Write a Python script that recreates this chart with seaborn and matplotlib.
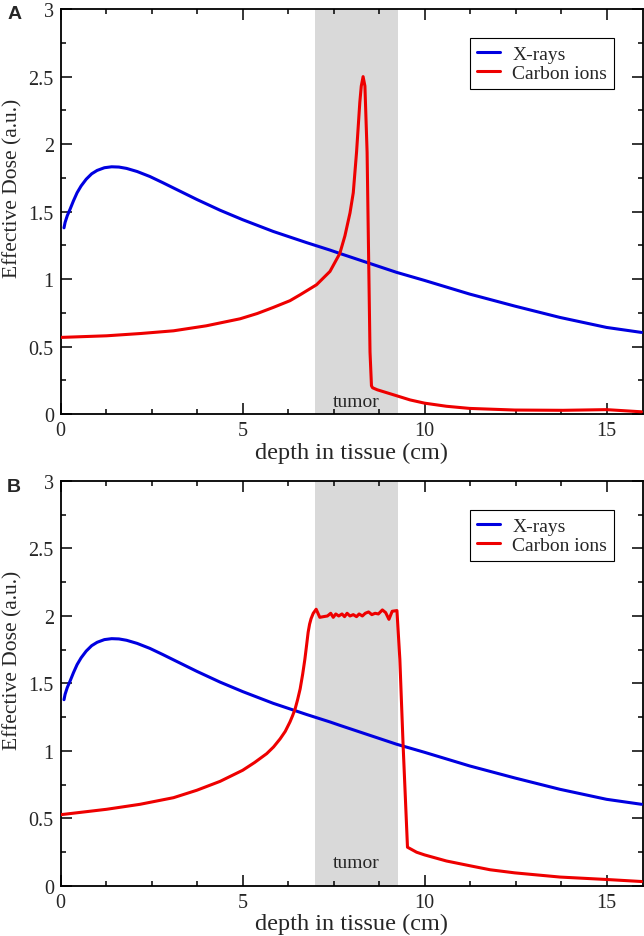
import numpy as np
import matplotlib
matplotlib.use('Agg')
import matplotlib.pyplot as plt
import seaborn as sns
from matplotlib.ticker import MultipleLocator

sns.set_theme(style="ticks")
plt.rcParams['font.family'] = ['Liberation Serif', 'DejaVu Serif']

# X-ray depth dose (same in both panels)
xray_x = [0.09, 0.12, 0.18, 0.26, 0.35, 0.45, 0.56, 0.7, 0.85, 1.0, 1.2, 1.4, 1.6, 1.81, 2.1, 2.45,
          2.8, 3.1, 3.74, 4.38, 5.0, 5.84, 6.76, 7.4, 7.67, 8.45, 9.23, 10.0, 11.24, 12.48, 13.72,
          15.0, 15.96]
xray_y = [1.38, 1.42, 1.47, 1.52, 1.58, 1.64, 1.69, 1.74, 1.78, 1.805, 1.825, 1.832, 1.83, 1.82, 1.797, 1.76,
          1.715, 1.675, 1.59, 1.51, 1.44, 1.353, 1.27, 1.215, 1.19, 1.12, 1.05, 0.99, 0.889, 0.80, 0.716,
          0.642, 0.605]

# carbon ions, single Bragg peak (panel A)
carbA_x = [0.0, 1.26, 2.2, 3.1, 4.0, 4.93, 5.4, 5.84, 6.3, 6.58, 7.03, 7.4, 7.67, 7.81, 7.95, 8.04,
           8.13, 8.22, 8.26, 8.31, 8.36, 8.42, 8.46, 8.5, 8.54, 8.57, 8.7, 9.23, 9.6, 10.0, 10.6,
           11.24, 12.48, 13.8, 15.0, 15.96]
carbA_y = [0.568, 0.58, 0.597, 0.617, 0.654, 0.706, 0.745, 0.79, 0.84, 0.884, 0.958, 1.057, 1.19, 1.32, 1.49, 1.64,
           1.94, 2.31, 2.43, 2.5, 2.43, 1.94, 1.2, 0.46, 0.21, 0.195, 0.18, 0.136, 0.105, 0.081, 0.058,
           0.042, 0.03, 0.028, 0.033, 0.017]

# carbon ions, spread-out Bragg peak (panel B)
carbB_x = [0.0, 1.26, 2.18, 3.1, 3.74, 4.38, 5.0, 5.33, 5.66, 5.85, 6.03, 6.17, 6.3, 6.37, 6.44, 6.51,
           6.58, 6.65, 6.71, 6.76, 6.8, 6.84, 6.88,
           6.94, 7.02, 7.12, 7.22, 7.33, 7.42, 7.49, 7.56, 7.64, 7.73, 7.80, 7.87, 7.95, 8.04, 8.13,
           8.20, 8.29, 8.37, 8.46, 8.55, 8.64, 8.73, 8.84, 8.93, 9.02, 9.11, 9.24, 9.32, 9.41, 9.53,
           9.78, 10.0, 10.6, 11.24, 11.8, 12.48, 13.72, 15.0, 15.96]
carbB_y = [0.528, 0.568, 0.605, 0.654, 0.709, 0.775, 0.857, 0.915, 0.98, 1.03, 1.09, 1.145, 1.215, 1.26, 1.31, 1.38,
           1.46, 1.57, 1.68, 1.79, 1.88, 1.94, 1.98,
           2.02, 2.05, 1.99, 1.995, 2.00, 2.02, 1.99, 2.015, 2.00, 2.015, 1.995, 2.02, 2.00, 2.01, 1.995,
           2.015, 2.00, 2.02, 2.03, 2.01, 2.02, 2.015, 2.045, 2.025, 1.975, 2.035, 2.04, 1.68, 1.04, 0.287,
           0.25, 0.23, 0.185, 0.15, 0.12, 0.097, 0.066, 0.048, 0.033]

tumor_span = (7.0, 9.27)
panels = [('A', carbA_x, carbA_y, 0.057), ('B', carbB_x, carbB_y, 0.14)]

fig = plt.figure(figsize=(6.44, 9.37), dpi=100)
rects = [[0.0943, 0.557, 0.904, 0.4322], [0.0943, 0.0534, 0.904, 0.4322]]

for (tag, cx, cy, ty), r in zip(panels, rects):
    ax = fig.add_axes(r)
    ax.axvspan(tumor_span[0], tumor_span[1], color='#d9d9d9', lw=0, zorder=0)
    sns.lineplot(x=xray_x, y=xray_y, ax=ax, color='#0000e0', lw=2.2, label='X-rays', zorder=3)
    sns.lineplot(x=cx, y=cy, ax=ax, color='#ee0000', lw=2.2, label='Carbon ions', zorder=4)
    ax.text(8.12, ty, 'tumor', ha='center', va='baseline', fontsize=14)

    ax.set_xlim(0, 16)
    ax.set_ylim(0, 3)
    ax.xaxis.set_major_locator(MultipleLocator(5))
    ax.xaxis.set_minor_locator(MultipleLocator(1.25))
    ax.yaxis.set_major_locator(MultipleLocator(0.5))
    ax.yaxis.set_minor_locator(MultipleLocator(0.25))
    ax.set_xticks([0, 5, 10, 15])
    ax.set_xticklabels(['0', '5', '10', '15'])
    ax.set_yticks([0, 0.5, 1, 1.5, 2, 2.5, 3])
    ax.set_yticklabels(['0', '0.5', '1', '1.5', '2', '2.5', '3'])
    ax.tick_params(which='both', direction='in', top=True, right=True, width=1.1, color='black',
                   labelsize=14.5, pad=5)
    ax.tick_params(which='major', length=7.7)
    ax.tick_params(which='minor', length=3.6)
    for s in ax.spines.values():
        s.set_linewidth(1.3)
        s.set_color('black')

    ax.set_xlabel('depth in tissue (cm)', fontsize=17.5, labelpad=1)
    ax.set_ylabel('Effective Dose (a.u.)', fontsize=15.5)
    ax.yaxis.set_label_coords(-0.066, 0.56)

    leg = ax.legend(loc='upper right', bbox_to_anchor=(0.95, 0.928), borderaxespad=0,
                    fontsize=14, handlelength=1.2, fancybox=False, framealpha=1,
                    edgecolor='black', borderpad=0.35, labelspacing=0.1, handletextpad=0.6)
    leg.get_frame().set_linewidth(0.8)

fig.text(0.022, 0.984, 'A', fontsize=14, fontweight='bold', family=['Liberation Sans', 'DejaVu Sans'],
         ha='center', va='center')
fig.text(0.022, 0.480, 'B', fontsize=14, fontweight='bold', family=['Liberation Sans', 'DejaVu Sans'],
         ha='center', va='center')

fig.savefig('out.png', dpi=100)
